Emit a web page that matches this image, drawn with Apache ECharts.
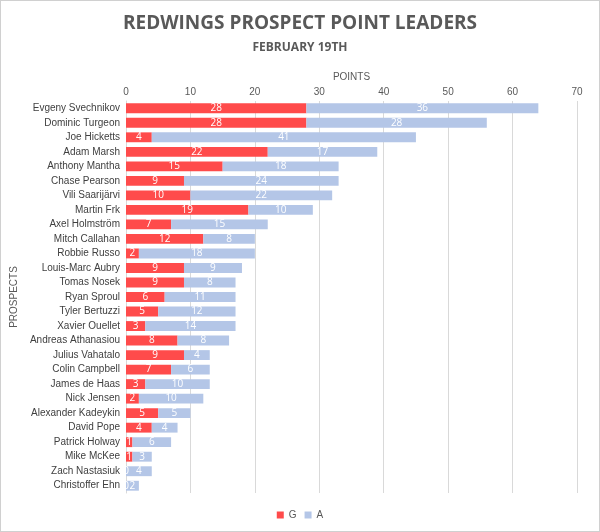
<!DOCTYPE html><html><head><meta charset="utf-8"><script src="https://cdn.jsdelivr.net/npm/echarts@6/dist/echarts.min.js"></script>
<style>body{margin:0}#c{width:598px;height:530px;border:1px solid #d0d0d0}</style></head><body><div id="c"></div><script>
const players=["Evgeny Svechnikov","Dominic Turgeon","Joe Hicketts","Adam Marsh","Anthony Mantha","Chase Pearson","Vili Saarijärvi","Martin Frk","Axel Holmström","Mitch Callahan","Robbie Russo","Louis-Marc Aubry","Tomas Nosek","Ryan Sproul","Tyler Bertuzzi","Xavier Ouellet","Andreas Athanasiou","Julius Vahatalo","Colin Campbell","James de Haas","Nick Jensen","Alexander Kadeykin","David Pope","Patrick Holway","Mike McKee","Zach Nastasiuk","Christoffer Ehn"];
const goals=[28,28,4,22,15,9,10,19,7,12,2,9,9,6,5,3,8,9,7,3,2,5,4,1,1,0,0];
const assists=[36,28,41,17,18,24,22,10,15,8,18,9,8,11,12,14,8,4,6,10,10,5,4,6,3,4,2];
const ch=echarts.init(document.getElementById('c'));
const lab={show:true,position:'inside',color:'#fff',fontSize:10,fontFamily:'Open Sans'};
ch.setOption({
title:[{text:'REDWINGS PROSPECT POINT LEADERS',left:'center',top:8,textStyle:{fontSize:19,fontWeight:'bold',color:'#595959',fontFamily:'Open Sans'}},
{text:'FEBRUARY 19TH',left:'center',top:36,textStyle:{fontSize:12,fontWeight:'bold',color:'#595959',fontFamily:'Open Sans'}}],
legend:{bottom:6,itemWidth:7,itemHeight:7,icon:'rect',textStyle:{fontSize:10,color:'#595959'},data:['G','A']},
grid:{left:123,right:22,top:100,bottom:38},
xAxis:{type:'value',position:'top',min:0,max:70,interval:10,name:'POINTS',nameLocation:'middle',nameGap:16,nameTextStyle:{fontSize:10,color:'#595959'},
axisLabel:{fontSize:10,color:'#595959',margin:4},splitLine:{lineStyle:{color:'#d9d9d9'}},axisLine:{show:false}},
yAxis:{type:'category',inverse:true,data:players,name:'PROSPECTS',nameLocation:'middle',nameGap:107,nameTextStyle:{fontSize:10,color:'#595959'},
axisLabel:{fontSize:10,color:'#404040',margin:6},axisTick:{show:false},axisLine:{lineStyle:{color:'#d9d9d9'}}},
series:[{name:'G',type:'bar',stack:'p',data:goals,barWidth:'68%',itemStyle:{color:'#ff4b4b'},label:lab},
{name:'A',type:'bar',stack:'p',data:assists,itemStyle:{color:'#b4c6e7'},label:lab}]
});
</script></body></html>
